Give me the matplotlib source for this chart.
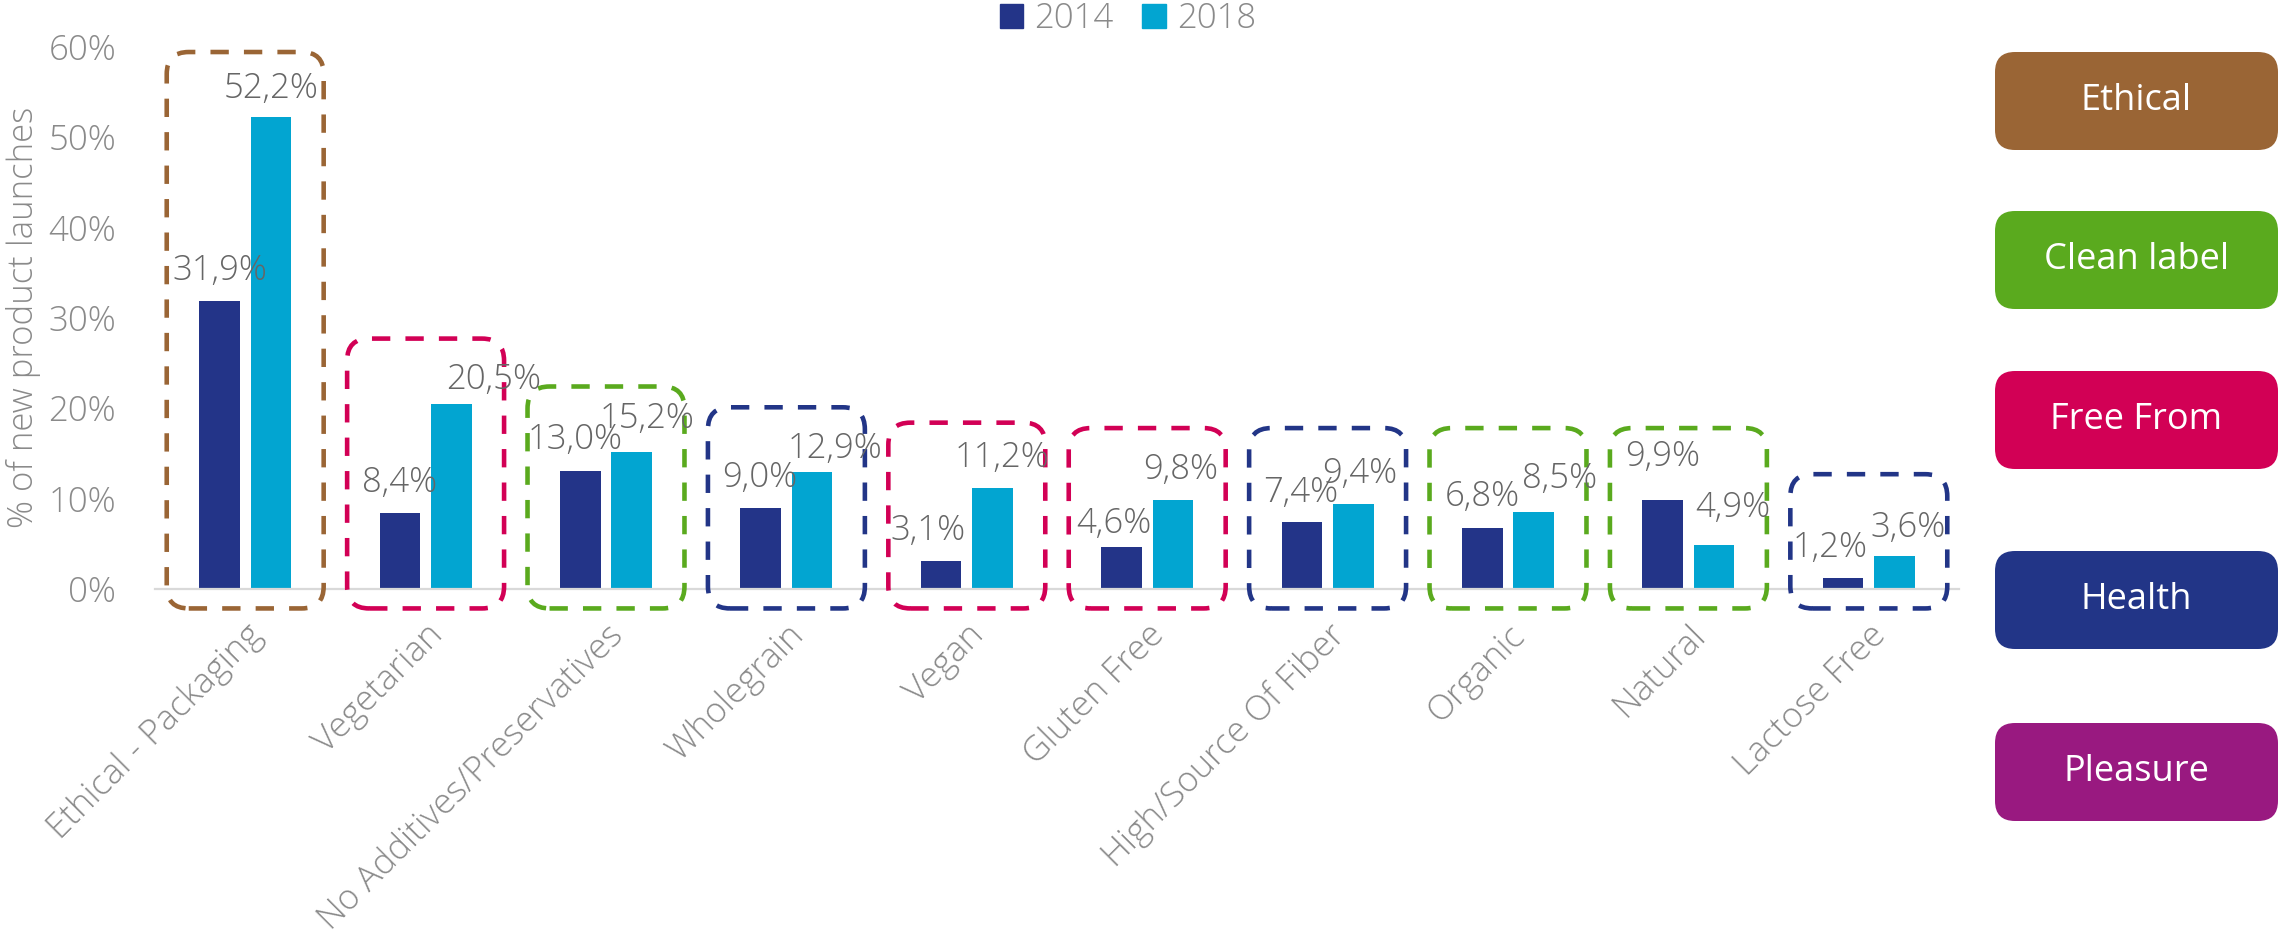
import numpy as np
import matplotlib
matplotlib.use('Agg')
import matplotlib.pyplot as plt
from matplotlib.patches import FancyBboxPatch, Patch
from matplotlib.transforms import IdentityTransform

# --- data ---
categories = ['Ethical - Packaging', 'Vegetarian', 'No Additives/Preservatives',
              'Wholegrain', 'Vegan', 'Gluten Free', 'High/Source Of Fiber',
              'Organic', 'Natural', 'Lactose Free']
v2014 = [31.9, 8.4, 13.0, 9.0, 3.1, 4.6, 7.4, 6.8, 9.9, 1.2]
v2018 = [52.2, 20.5, 15.2, 12.9, 11.2, 9.8, 9.4, 8.5, 4.9, 3.6]
groups = ['Ethical', 'Free From', 'Clean label', 'Health', 'Free From',
          'Free From', 'Health', 'Clean label', 'Clean label', 'Health']
group_names = ['Ethical', 'Clean label', 'Free From', 'Health', 'Pleasure']
years = ['2014', '2018']
yticks = [0, 10, 20, 30, 40, 50, 60]

# --- stil ---
c14, c18 = '#233488', '#02A5D1'
group_colors = {'Ethical': '#9A6535', 'Clean label': '#5AAA1E',
                'Free From': '#D20055', 'Health': '#223587',
                'Pleasure': '#991980'}
grey_lab = '#666666'
grey_tick = '#8A8A8A'
fs = 25

# manuelle justeringer av verdietiketter (px): sideveis flytt, avstand over søyla
dx14 = [0, 0, -5, -1, -13, -8, -1, 0, 0, -13]
dx18 = [0, 42, 15, 23, 9, 8, 6, 26, 19, 14]
gap14 = [21, 21, 22, 21, 21, 14, 20, 22, 34, 21]
gap18 = [19, 15, 24, 14, 21, 21, 21, 24, 28, 19]

# posisjon (topp, px fra toppen) for gruppeboksene til høyre
legend_box_top = [52, 211, 371, 551, 723]

plt.rcParams['font.family'] = ['Open Sans', 'DejaVu Sans']

W, H = 2280, 938
fig = plt.figure(figsize=(W / 100, H / 100), dpi=100)
ax = fig.add_axes([155 / W, 1 - 589 / H, (1959 - 155) / W, (589 - 46.6) / H])

x = np.arange(len(categories))
w = 0.2245
off = 0.1427
ax.bar(x - off, v2014, width=w, color=c14, label=years[0], zorder=2)
ax.bar(x + off, v2018, width=w, color=c18, label=years[1], zorder=2)

ax.set_xlim(-0.5, 9.5)
ax.set_ylim(0, 60)

# verdietiketter
def fmt(v):
    return f"{v:.1f}%".replace('.', ',')

for i in range(len(categories)):
    ax.annotate(fmt(v2014[i]), xy=(x[i] - off, v2014[i]),
                xytext=(dx14[i] * 0.72, gap14[i] * 0.72), textcoords='offset points',
                ha='center', va='baseline', fontsize=fs, color=grey_lab,
                fontweight='light', zorder=4)
    ax.annotate(fmt(v2018[i]), xy=(x[i] + off, v2018[i]),
                xytext=(dx18[i] * 0.72, gap18[i] * 0.72), textcoords='offset points',
                ha='center', va='baseline', fontsize=fs, color=grey_lab,
                fontweight='light', zorder=4)

# akser
for s in ['left', 'top', 'right']:
    ax.spines[s].set_visible(False)
ax.spines['bottom'].set_color('#D9D9D9')
ax.spines['bottom'].set_linewidth(1.6)
ax.set_yticks(yticks)
ax.set_yticklabels([f"{t}%" for t in yticks])
ax.tick_params(axis='y', length=0, pad=28, labelsize=fs, labelcolor=grey_tick)
ax.set_xticks(x)
ax.set_xticklabels(categories, rotation=45, ha='right', va='top',
                   rotation_mode='anchor')
ax.tick_params(axis='x', length=0, pad=21, labelsize=25.2, labelcolor=grey_tick)
for lab in ax.get_xticklabels() + ax.get_yticklabels():
    lab.set_fontweight('light')

ax.set_ylabel('% of new product launches', fontsize=fs, color=grey_tick,
              fontweight='light', va='center')
ax.yaxis.set_label_coords((24 - 155) / (1959 - 155), 0.5)

# stiplede grupperammer rundt hver kategori
p0 = ax.transData.transform((0, 0))
p1 = ax.transData.transform((1, 1))
px_x, px_y = p1[0] - p0[0], p1[1] - p0[1]
aspect = px_x / px_y
r = 22 / px_x
bw = 0.87
bottom = -2.15
for i, g in enumerate(groups):
    hi = max(v2014[i], v2018[i])
    top = max(hi + 7.2, 17.8) if hi > 5 else hi + 9.1
    box = FancyBboxPatch((x[i] - bw / 2, bottom), bw, top - bottom,
                         boxstyle=f"round,pad=0,rounding_size={r}",
                         mutation_aspect=aspect, fill=False,
                         edgecolor=group_colors[g], linewidth=3.3,
                         linestyle=(0, (4.0, 3.3)), clip_on=False, zorder=3)
    ax.add_patch(box)

# forklaring øverst
fig.legend(handles=[Patch(color=c14), Patch(color=c18)], labels=years,
           loc='center', bbox_to_anchor=(1128 / W, 1 - 18.5 / H), ncol=2,
           frameon=False, handlelength=0.68, handleheight=0.68,
           handletextpad=0.32, columnspacing=0.82, borderpad=0,
           labelcolor=grey_tick, prop={'size': fs, 'weight': 'light'})

# gruppeboksene til høyre
bx0, bx1, bh = 1995, 2278, 98
for name, t in zip(group_names, legend_box_top):
    yb = H - t - bh
    patch = FancyBboxPatch((bx0, yb), bx1 - bx0, bh,
                           boxstyle="round,pad=0,rounding_size=20",
                           facecolor=group_colors[name], edgecolor='none',
                           transform=IdentityTransform())
    fig.add_artist(patch)
    fig.text((bx0 + bx1) / 2 / W, (yb + bh / 2) / H, name, ha='center',
             va='center', color='white', fontsize=26)

fig.savefig('out.png', dpi=100)
